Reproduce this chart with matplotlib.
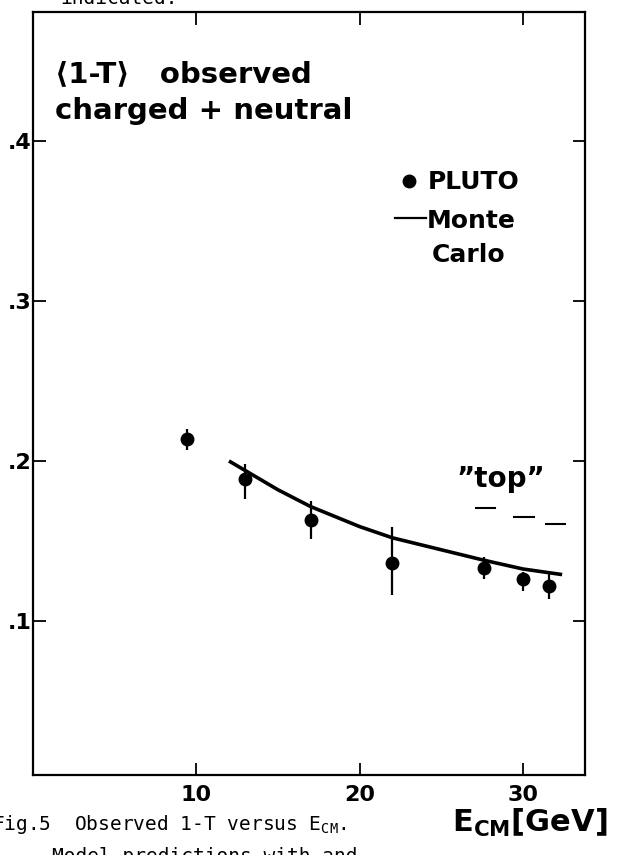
import matplotlib
matplotlib.use("Agg")
import matplotlib.pyplot as plt
from matplotlib.lines import Line2D

# ---- data ----
energy = [9.4, 13.0, 17.0, 22.0, 27.6, 30.0, 31.6]
thrust = [0.214, 0.189, 0.163, 0.136, 0.133, 0.126, 0.122]
err_lo = [0.007, 0.013, 0.012, 0.020, 0.007, 0.0075, 0.008]
err_hi = [0.006, 0.009, 0.012, 0.023, 0.007, 0.0045, 0.0075]

mc_energy = [12.0, 13.0, 15.0, 17.0, 20.0, 22.0, 25.0, 27.6, 30.0, 32.4]
mc_thrust = [0.200, 0.194, 0.182, 0.1715, 0.159, 0.152, 0.1445, 0.138, 0.1325, 0.129]

top_energy = [27.7, 30.05, 32.0]
top_thrust = [0.1705, 0.165, 0.1608]

xticks = [10, 20, 30]
xticklabels = ["10", "20", "30"]
yticks = [0.1, 0.2, 0.3, 0.4]
yticklabels = [".1", ".2", ".3", ".4"]

W, H = 617, 855
fig = plt.figure(figsize=(W / 100, H / 100), dpi=100)
FONT = "DejaVu Sans"

def fx(px):
    return px / W

def fy(py):
    return 1 - py / H

ax = fig.add_axes([fx(33), fy(775), fx(585) - fx(33), fy(12) - fy(775)])
ax.set_xlim(0, 33.8)
ax.set_ylim(0.00375, 0.4806)

for s in ax.spines.values():
    s.set_linewidth(1.6)

ax.errorbar(energy, thrust, yerr=[err_lo, err_hi], fmt="o", color="black",
            markersize=9, elinewidth=1.6, capsize=0)
ax.plot(mc_energy, mc_thrust, color="black", lw=2.6, solid_capstyle="butt")
half = 0.6
for e, t in zip(top_energy, top_thrust):
    ax.plot([e - half, e + half], [t, t], color="black", lw=1.5)

ax.set_xticks(xticks)
ax.set_xticklabels(xticklabels, fontsize=16, fontweight="bold", family=FONT)
ax.set_yticks(yticks)
ax.set_yticklabels(yticklabels, fontsize=16, fontweight="bold", family=FONT)
ax.tick_params(direction="in", length=9, width=1.3, top=True, right=True,
               pad=7)
ax.tick_params(axis="y", pad=1)

# annotations
fig.text(fx(55), fy(82), "⟨1-T⟩   observed", fontsize=21, fontweight="bold",
         family=[FONT], va="baseline")
fig.text(fx(55), fy(119), "charged + neutral", fontsize=21, fontweight="bold",
         family=[FONT], va="baseline")

ax.plot([fx(409)], [fy(181)], "o", color="black", markersize=9,
        transform=fig.transFigure, clip_on=False)
fig.text(fx(428), fy(189), "PLUTO", fontsize=18, fontweight="bold",
         family=[FONT], va="baseline")
fig.add_artist(Line2D([fx(395), fx(426)], [fy(218), fy(218)], color="black",
                      lw=1.6, transform=fig.transFigure))
fig.text(fx(427), fy(228), "Monte", fontsize=18, fontweight="bold",
         family=[FONT], va="baseline")
fig.text(fx(432), fy(262), "Carlo", fontsize=18, fontweight="bold",
         family=[FONT], va="baseline")
fig.text(fx(457), fy(487), "\u201dtop\u201d", fontsize=20, fontweight="bold",
         family=[FONT], va="baseline")

# caption pieces
MONO = "DejaVu Sans Mono"
fig.text(fx(-8), fy(830), "Fig.5  Observed 1-T versus E$_{\\mathregular{CM}}$.",
         fontsize=14, family=[MONO], va="baseline")
fig.text(fx(52), fy(862), "Model predictions with and",
         fontsize=14, family=[MONO], va="baseline")
fig.text(fx(60), fy(4), "indicated.", fontsize=14, family=[MONO],
         va="baseline")
fig.text(fx(452), fy(832), "E$_{\\mathregular{CM}}$[GeV]", fontsize=22,
         fontweight="bold", family=[FONT], va="baseline")

fig.savefig("out.png", dpi=100)
